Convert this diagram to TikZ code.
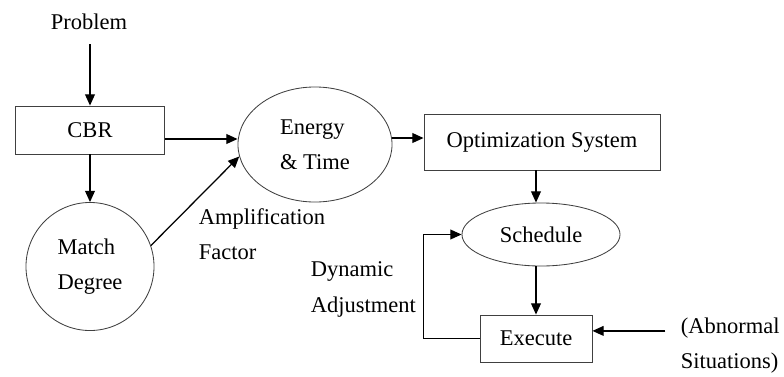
\documentclass[tikz,border=0pt]{standalone}
\usepackage{fontspec}
\setmainfont{Liberation Serif}
\usetikzlibrary{arrows.meta,shapes.geometric}
\begin{document}
\begin{tikzpicture}[x=0.025cm, y=-0.025cm,
  every node/.style={font=\fontsize{16}{25}\selectfont},
  box/.style={draw=black!75, line width=0.6pt, rectangle},
  oval/.style={draw=black!75, line width=0.6pt, ellipse, inner sep=0pt},
  flow/.style={line width=0.9pt, -{Triangle[length=8pt,width=7pt]}},
] 
\useasboundingbox (0,0) rectangle (784,376);
% Input and case-based reasoning
\node (problem) at (89,22) {Problem};
\node[box, minimum width=3.725cm, minimum height=1.2cm] (cbr) at (90,130) {CBR};
\node[oval, minimum size=3.2cm, align=left] (match) at (90,266.5) {Match\\Degree};
\node[oval, minimum width=3.85cm, minimum height=2.875cm, align=left] (energy) at (315,144.5) {Energy\\\& Time};
% Optimization and scheduling
\node[box, minimum width=5.9cm, minimum height=1.4cm] (opt) at (542,142) {Optimization System};
\node[oval, minimum width=3.95cm, minimum height=1.575cm] (schedule) at (541,234.5) {Schedule};
\node[box, minimum width=2.8cm, minimum height=1.175cm] (execute) at (536,338.5) {Execute};
% Annotations
\node[anchor=west, align=left] (ampl) at (194,234.5) {Amplification\\Factor};
\node[anchor=west, align=left] (dyn) at (306,289.5) {Dynamic\\Adjustment};
\node[anchor=west, align=left] (abn) at (676,346) {(Abnormal\\Situations)};
% Coordinates for offset arrows
\coordinate (probout) at ([yshift=-0.24cm]problem.south -| cbr.north);
\coordinate (cbrout) at ([yshift=-0.225cm]cbr.east);
\coordinate (optin) at ([yshift=0.1cm]opt.west);
\coordinate (abin) at ([yshift=0.19cm]execute.east);
\coordinate (abfrom) at ([xshift=1.825cm]abin);
% Arrows
\draw[flow] (probout) -- (cbr.north);
\draw[flow] (cbr.south) -- (match.north);
\draw[flow] (cbrout) -- (cbrout -| energy.west);
\draw[flow] (match.19) -- (energy.189);
\draw[flow] (energy.east |- optin) -- (optin);
\draw[flow] (opt.south -| execute.north) -- (schedule.north -| execute.north);
\draw[flow] (schedule.south -| execute.north) -- (execute.north);
\draw[flow] (execute.west) -- ++(-1.4cm,0) |- (schedule.west);
\draw[flow] (abfrom) -- (abin);
\end{tikzpicture}
\end{document}
